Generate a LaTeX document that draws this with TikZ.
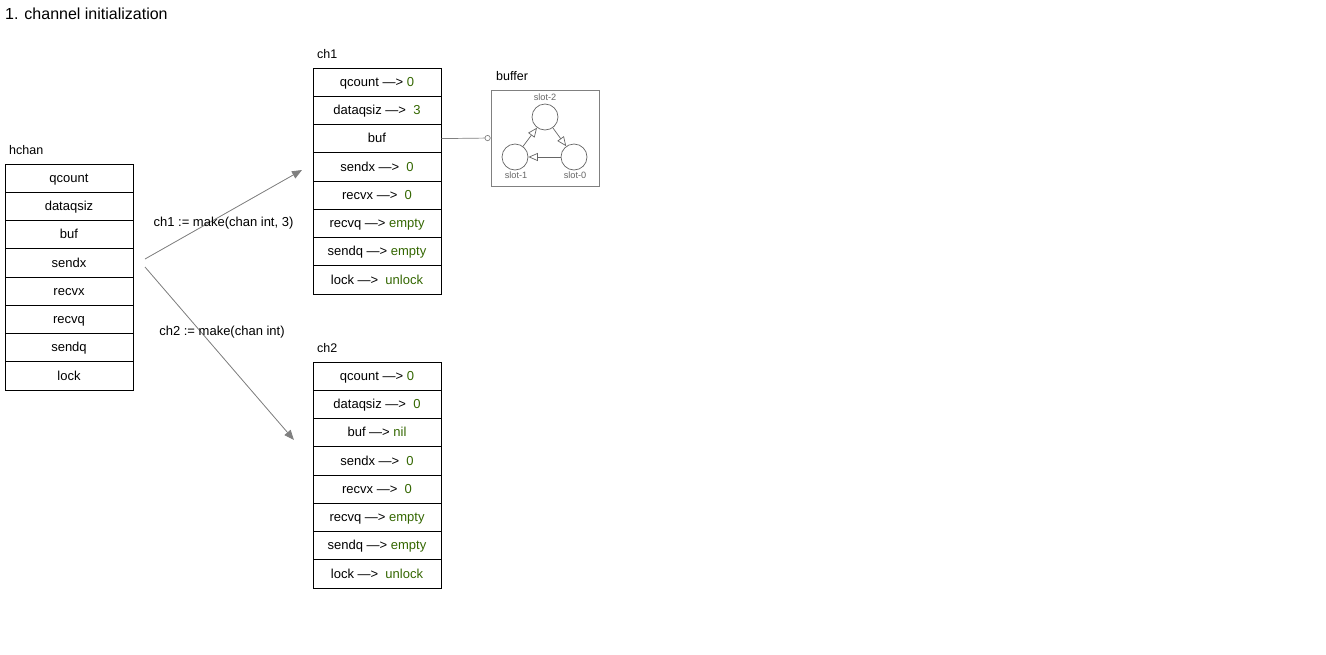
\documentclass[tikz,border=0pt]{standalone}
\usepackage{fontspec}
\setmainfont{Liberation Sans}
\usetikzlibrary{arrows.meta}
\definecolor{valgreen}{RGB}{51,102,0}
\definecolor{linegray}{RGB}{128,128,128}
\definecolor{slotgray}{RGB}{102,102,102}
\begin{document}
\begin{tikzpicture}[x=1pt,y=-1pt,
  cell/.style={draw=black,line width=0.8pt,minimum width=128pt,minimum height=28.25pt,inner sep=0pt,
    text height=10.2pt,text depth=2pt,font=\fontsize{13}{15}\selectfont},
  lbl/.style={anchor=west,inner sep=0pt,font=\fontsize{12.5}{14}\selectfont},
  slot/.style={draw=slotgray,line width=0.7pt,circle,minimum size=26pt,inner sep=0pt},
  slotlbl/.style={inner sep=0pt,text=slotgray,font=\fontsize{9.2}{10}\selectfont},
  mkarrow/.style={draw=linegray,line width=0.8pt,-{Triangle[length=10pt,width=8pt]},fill=linegray},
  ringarrow/.style={draw=slotgray,line width=0.7pt,-{Triangle[open,length=9.5pt,width=8pt]}},
  mklbl/.style={inner sep=0pt,font=\fontsize{13}{15}\selectfont}]
\useasboundingbox (0,0) rectangle (1326,654);

% title
\node[anchor=west,inner sep=0pt,font=\fontsize{16}{19}\selectfont] (title) at (5,14) {1. channel initialization};

% hchan
\node[lbl] (hchanlbl) at (9,150) {hchan};
\node[cell] (h1) at (69,178.1) {qcount};
\node[cell] (h2) at (69,206.4) {dataqsiz};
\node[cell] (h3) at (69,234.6) {buf};
\node[cell] (h4) at (69,262.9) {sendx};
\node[cell] (h5) at (69,291.1) {recvx};
\node[cell] (h6) at (69,319.4) {recvq};
\node[cell] (h7) at (69,347.6) {sendq};
\node[cell] (h8) at (69,375.9) {lock};

% ch1
\node[lbl] (ch1lbl) at (317,54) {ch1};
\node[cell] (a1) at (377,82.1) {qcount —> \textcolor{valgreen}{0}};
\node[cell] (a2) at (377,110.4) {dataqsiz —>\ \ \textcolor{valgreen}{3}};
\node[cell] (a3) at (377,138.6) {buf};
\node[cell] (a4) at (377,166.9) {sendx —>\ \ \textcolor{valgreen}{0}};
\node[cell] (a5) at (377,195.1) {recvx —>\ \ \textcolor{valgreen}{0}};
\node[cell] (a6) at (377,223.4) {recvq —> \textcolor{valgreen}{empty}};
\node[cell] (a7) at (377,251.6) {sendq —> \textcolor{valgreen}{empty}};
\node[cell] (a8) at (377,279.9) {lock —>\ \ \textcolor{valgreen}{unlock}};

% ch2
\node[lbl] (ch2lbl) at (317,348) {ch2};
\node[cell] (b1) at (377,376.1) {qcount —> \textcolor{valgreen}{0}};
\node[cell] (b2) at (377,404.4) {dataqsiz —>\ \ \textcolor{valgreen}{0}};
\node[cell] (b3) at (377,432.6) {buf —> \textcolor{valgreen}{nil}};
\node[cell] (b4) at (377,460.9) {sendx —>\ \ \textcolor{valgreen}{0}};
\node[cell] (b5) at (377,489.1) {recvx —>\ \ \textcolor{valgreen}{0}};
\node[cell] (b6) at (377,517.4) {recvq —> \textcolor{valgreen}{empty}};
\node[cell] (b7) at (377,545.6) {sendq —> \textcolor{valgreen}{empty}};
\node[cell] (b8) at (377,573.9) {lock —>\ \ \textcolor{valgreen}{unlock}};

% buffer
\node[lbl] (buflbl) at (496,76) {buffer};
\node[draw=linegray,line width=0.8pt,minimum width=108pt,minimum height=96pt,inner sep=0pt] (bufbox) at (545,138) {};
\node[slot] (s2) at (545,117) {};
\node[slot] (s1) at (515,157) {};
\node[slot] (s0) at (574,157) {};
\node[slotlbl] (s2l) at (545,97) {slot-2};
\node[slotlbl] (s1l) at (516,175) {slot-1};
\node[slotlbl] (s0l) at (575,175) {slot-0};
\draw[ringarrow] (s1) -- (s2);
\draw[ringarrow] (s2) -- (s0);
\draw[ringarrow] (s0) -- (s1);
\draw[draw=linegray,line width=0.7pt,-{Circle[open,length=6pt,width=6pt]}] (a3.east) -- (bufbox.west);

% make arrows
\coordinate (o1) at (145,259);
\coordinate (o2) at (145,267);
\coordinate (t1) at (302,170);
\coordinate (t2) at (294,440);
\draw[mkarrow] (o1) -- (t1);
\draw[mkarrow] (o2) -- (t2);
\node[mklbl] (m1) at (223.5,223) {ch1 := make(chan int, 3)};
\node[mklbl] (m2) at (222,332) {ch2 := make(chan int)};
\end{tikzpicture}
\end{document}
